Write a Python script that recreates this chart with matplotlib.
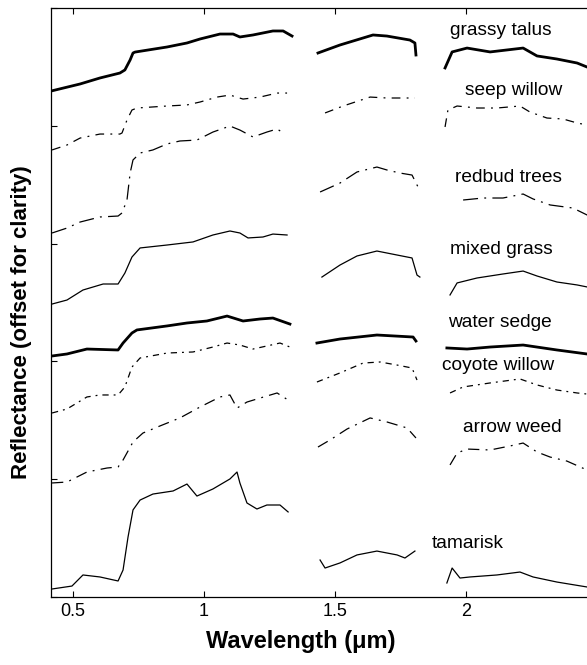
"""
Field spectra of riparian vegetation, offset for clarity
"""
import matplotlib
matplotlib.use("Agg")
import matplotlib.pyplot as plt
import numpy as np

nan = np.nan

# wavelength (um) / reflectance (offset units); nan marks the water bands
talus_wl = [0.416, 0.527, 0.603, 0.679, 0.698, 0.718, 0.729, 0.737, 0.859, 0.935, 0.985, 1.061,
            1.111, 1.137, 1.187, 1.263, 1.302, 1.336, nan,
            1.435, 1.519, 1.645, 1.698, 1.786, 1.805, 1.809, nan,
            1.920, 1.947, 2.004, 2.092, 2.218, 2.271, 2.347, 2.424, 2.462, 2.5]
talus_r = [4.295, 4.355, 4.406, 4.448, 4.474, 4.559, 4.618, 4.626, 4.669, 4.703, 4.737, 4.779,
           4.779, 4.754, 4.771, 4.805, 4.805, 4.762, nan,
           4.618, 4.686, 4.771, 4.762, 4.728, 4.703, 4.601, nan,
           4.491, 4.627, 4.660, 4.627, 4.660, 4.593, 4.567, 4.533, 4.499, 4.482]

seep_wl = [0.420, 0.477, 0.527, 0.603, 0.679, 0.687, 0.706, 0.725, 0.744, 0.859, 0.935, 0.985,
           1.050, 1.099, 1.149, 1.214, 1.279, 1.317, nan,
           1.462, 1.531, 1.634, 1.698, 1.805, nan,
           1.920, 1.931, 1.966, 2.042, 2.118, 2.206, 2.244, 2.309, 2.370, 2.424, 2.462, 2.5]
seep_r = [3.795, 3.837, 3.896, 3.930, 3.930, 3.939, 4.049, 4.134, 4.151, 4.168, 4.177, 4.202,
          4.244, 4.261, 4.227, 4.244, 4.278, 4.278, nan,
          4.109, 4.168, 4.244, 4.236, 4.236, nan,
          3.990, 4.134, 4.168, 4.151, 4.151, 4.168, 4.117, 4.066, 4.058, 4.024, 4.007, 3.990]

redbud_wl = [0.420, 0.477, 0.527, 0.603, 0.672, 0.687, 0.706, 0.718, 0.729, 0.756, 0.805, 0.859,
             0.908, 0.973, 1.034, 1.099, 1.137, 1.187, 1.240, 1.279, 1.309, nan,
             1.443, 1.519, 1.584, 1.660, 1.698, 1.748, 1.794, 1.817, nan,
             1.989, 2.065, 2.141, 2.218, 2.256, 2.321, 2.408, 2.462, 2.5]
redbud_r = [3.090, 3.132, 3.183, 3.226, 3.234, 3.260, 3.370, 3.599, 3.710, 3.769, 3.795, 3.846,
            3.871, 3.879, 3.947, 3.998, 3.964, 3.905, 3.947, 3.973, 3.930, nan,
            3.438, 3.514, 3.608, 3.650, 3.625, 3.599, 3.582, 3.480, nan,
            3.370, 3.387, 3.387, 3.421, 3.379, 3.328, 3.302, 3.243, 3.226]

grass_wl = [0.420, 0.477, 0.538, 0.615, 0.672, 0.698, 0.725, 0.756, 0.859, 0.958, 1.034, 1.099,
            1.137, 1.168, 1.225, 1.263, 1.317, nan,
            1.450, 1.519, 1.584, 1.660, 1.737, 1.794, 1.813, 1.824, nan,
            1.939, 1.966, 2.042, 2.141, 2.218, 2.271, 2.347, 2.424, 2.462, 2.5]
grass_r = [2.487, 2.521, 2.606, 2.657, 2.657, 2.750, 2.886, 2.963, 2.988, 3.014, 3.073, 3.107,
           3.090, 3.048, 3.056, 3.081, 3.073, nan,
           2.716, 2.818, 2.895, 2.937, 2.903, 2.878, 2.733, 2.716, nan,
           2.564, 2.666, 2.708, 2.742, 2.767, 2.725, 2.674, 2.649, 2.632, 2.615]

sedge_wl = [0.420, 0.477, 0.553, 0.672, 0.691, 0.725, 0.744, 0.859, 0.935, 1.011, 1.088, 1.149,
            1.214, 1.263, 1.328, nan,
            1.431, 1.519, 1.660, 1.798, 1.809, nan,
            1.927, 2.004, 2.092, 2.218, 2.347, 2.462, 2.5]
sedge_r = [2.046, 2.063, 2.105, 2.097, 2.156, 2.241, 2.267, 2.301, 2.326, 2.343, 2.385, 2.343,
           2.360, 2.368, 2.317, nan,
           2.156, 2.190, 2.224, 2.207, 2.173, nan,
           2.114, 2.105, 2.122, 2.139, 2.097, 2.063, 2.054]

coyote_wl = [0.420, 0.477, 0.553, 0.603, 0.672, 0.698, 0.725, 0.756, 0.859, 0.958, 1.034, 1.088,
             1.137, 1.187, 1.240, 1.290, 1.328, nan,
             1.431, 1.519, 1.607, 1.672, 1.737, 1.794, 1.813, nan,
             1.939, 1.989, 2.092, 2.206, 2.271, 2.347, 2.424, 2.462, 2.5]
coyote_r = [1.562, 1.596, 1.698, 1.715, 1.715, 1.783, 1.952, 2.029, 2.071, 2.080, 2.122, 2.156,
            2.139, 2.105, 2.131, 2.156, 2.122, nan,
            1.825, 1.902, 1.986, 1.995, 1.969, 1.944, 1.842, nan,
            1.732, 1.783, 1.817, 1.851, 1.800, 1.757, 1.732, 1.723, 1.715]

arrow_wl = [0.420, 0.477, 0.553, 0.630, 0.672, 0.691, 0.729, 0.767, 0.832, 0.908, 0.985, 1.061,
            1.099, 1.126, 1.164, 1.214, 1.279, 1.321, nan,
            1.435, 1.481, 1.546, 1.634, 1.698, 1.775, 1.809, nan,
            1.939, 1.966, 2.004, 2.092, 2.168, 2.218, 2.271, 2.321, 2.385, 2.462, 2.5]
arrow_r = [0.968, 0.976, 1.061, 1.095, 1.104, 1.163, 1.316, 1.392, 1.452, 1.520, 1.613, 1.698,
           1.715, 1.604, 1.655, 1.689, 1.732, 1.672, nan,
           1.273, 1.333, 1.426, 1.520, 1.486, 1.435, 1.350, nan,
           1.121, 1.222, 1.256, 1.248, 1.282, 1.307, 1.231, 1.188, 1.154, 1.078, 1.053]

tamarisk_wl = [0.420, 0.496, 0.538, 0.603, 0.672, 0.691, 0.710, 0.729, 0.756, 0.805, 0.882, 0.935,
               0.973, 1.034, 1.099, 1.126, 1.137, 1.164, 1.202, 1.240, 1.290, 1.321, nan,
               1.443, 1.462, 1.519, 1.584, 1.660, 1.737, 1.767, 1.805, nan,
               1.927, 1.947, 1.977, 2.015, 2.118, 2.206, 2.256, 2.347, 2.462, 2.5]
tamarisk_r = [0.068, 0.093, 0.187, 0.170, 0.136, 0.229, 0.509, 0.739, 0.823, 0.874, 0.900, 0.959,
              0.857, 0.917, 1.002, 1.061, 0.968, 0.798, 0.747, 0.781, 0.781, 0.722, nan,
              0.314, 0.246, 0.289, 0.357, 0.390, 0.357, 0.331, 0.390, nan,
              0.119, 0.246, 0.161, 0.170, 0.187, 0.212, 0.170, 0.127, 0.085, 0.076]

names = ["grassy talus", "seep willow", "redbud trees", "mixed grass",
         "water sedge", "coyote willow", "arrow weed", "tamarisk"]

# line look and label anchor for each spectrum
styles = [
    dict(lw=2.0, ls="-"),
    dict(lw=0.9, ls=(0, (7, 5, 1.5, 5))),
    dict(lw=0.9, ls=(0, (12, 5, 1.5, 5))),
    dict(lw=0.9, ls="-"),
    dict(lw=2.0, ls="-"),
    dict(lw=0.9, ls=(0, (5, 4, 1.5, 4))),
    dict(lw=0.9, ls=(0, (9, 5, 1.5, 5))),
    dict(lw=0.9, ls="-"),
]
label_pos = [(1.939, 4.81), (1.996, 4.30), (1.958, 3.565), (1.939, 2.946),
             (1.931, 2.326), (1.908, 1.969), (1.989, 1.443), (1.870, 0.458)]

spectra = [(talus_wl, talus_r), (seep_wl, seep_r), (redbud_wl, redbud_r),
           (grass_wl, grass_r), (sedge_wl, sedge_r), (coyote_wl, coyote_r),
           (arrow_wl, arrow_r), (tamarisk_wl, tamarisk_r)]

plt.rcParams["font.family"] = ["Liberation Sans", "DejaVu Sans"]

fig = plt.figure(figsize=(5.87, 6.65), dpi=100)
ax = fig.add_axes([51 / 587, 68 / 665, 546 / 587, 589 / 665])

for (wl, r), st, name, (tx, ty) in zip(spectra, styles, names, label_pos):
    ax.plot(wl, r, color="black", linewidth=st["lw"], linestyle=st["ls"],
            solid_joinstyle="round")
    ax.text(tx, ty, name, fontsize=13.8, va="center", ha="left")

ax.set_xlim(0.416, 2.5)
ax.set_ylim(0, 5)
ax.set_xticks([0.5, 1, 1.5, 2])
ax.set_xticklabels(["0.5", "1", "1.5", "2"])
ax.set_yticks([0, 1, 2, 3, 4, 5])
ax.set_yticklabels([])
ax.tick_params(direction="in", length=4, width=0.8, top=True, right=False,
               labelsize=13, pad=4)
for s in ax.spines.values():
    s.set_linewidth(0.9)

ax.set_xlabel("Wavelength (\u03bcm)", fontsize=17, fontweight="bold")
ax.xaxis.set_label_coords(0.458, -0.056)
ax.set_ylabel("Reflectance (offset for clarity)", fontsize=16, fontweight="bold")
ax.yaxis.set_label_coords(-0.034, 0.467)

fig.savefig("out.png", dpi=100)
